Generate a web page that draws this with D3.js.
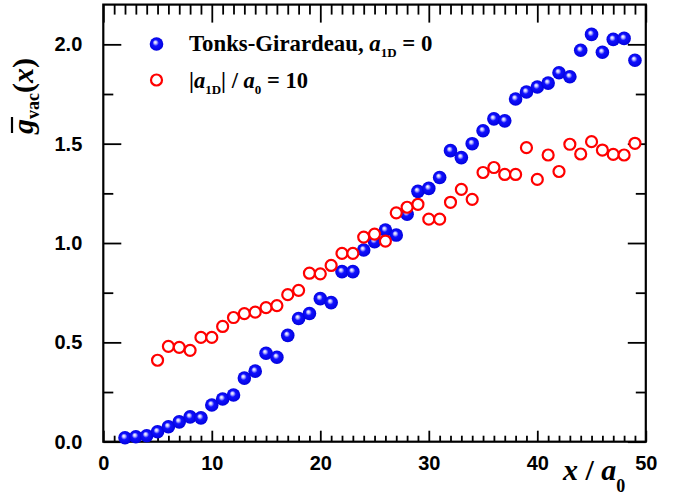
<!DOCTYPE html>
<html>
<head>
<meta charset="utf-8">
<script src="https://d3js.org/d3.v7.min.js"></script>
<style>
  body { margin: 0; background: #fff; }
  svg { display: block; }
</style>
</head>
<body>
<script>
// x / a0 positions
const blueX = [2, 3, 4, 5, 6, 7, 8, 9, 10, 11, 12, 13, 14, 15, 16, 17, 18, 19, 20, 21, 22, 23, 24, 25,
               26, 27, 28, 29, 30, 31, 32, 33, 34, 35, 36, 37, 38, 39, 40, 41, 42, 43, 44, 45, 46, 47, 48, 49];
// Tonks-Girardeau, a1D = 0
const blueY = [0.02, 0.025, 0.03, 0.05, 0.075, 0.10, 0.125, 0.12, 0.185, 0.215, 0.235, 0.32, 0.355, 0.445,
               0.425, 0.535, 0.62, 0.645, 0.72, 0.70, 0.856, 0.856, 0.965, 1.007, 1.065, 1.04, 1.145, 1.26,
               1.275, 1.33, 1.465, 1.43, 1.50, 1.565, 1.625, 1.615, 1.725, 1.76, 1.785, 1.805, 1.857, 1.837,
               1.97, 2.05, 1.96, 2.025, 2.03, 1.92];

const redX = [5, 6, 7, 8, 9, 10, 11, 12, 13, 14, 15, 16, 17, 18, 19, 20, 21, 22, 23, 24, 25, 26, 27,
              28, 29, 30, 31, 32, 33, 34, 35, 36, 37, 38, 39, 40, 41, 42, 43, 44, 45, 46, 47, 48, 49];
// |a1D| / a0 = 10
const redY = [0.41, 0.48, 0.475, 0.46, 0.525, 0.525, 0.58, 0.625, 0.645, 0.652, 0.675, 0.685, 0.74, 0.762,
              0.848, 0.845, 0.887, 0.948, 0.948, 1.03, 1.045, 1.01, 1.152, 1.18, 1.195, 1.12, 1.12, 1.205,
              1.27, 1.22, 1.355, 1.38, 1.345, 1.345, 1.48, 1.32, 1.443, 1.36, 1.497, 1.448, 1.51, 1.468,
              1.446, 1.443, 1.502];

const xMajor = [0, 10, 20, 30, 40, 50];
const yMajor = [0.0, 0.5, 1.0, 1.5, 2.0];
const yMinor = [0.25, 0.75, 1.25, 1.75];

const W = 677, H = 496;
const serif = "'Liberation Serif', 'Times New Roman', serif";
const sans = "'Liberation Sans', Arial, sans-serif";

const svg = d3.select("body").append("svg")
    .attr("width", W)
    .attr("height", H)
    .attr("viewBox", `0 0 ${W} ${H}`);

const x = d3.scaleLinear().domain([0, 50]).range([103.3, 645.8]);
const y = d3.scaleLinear().domain([0, 2.2]).range([441.7, 4.6]);

// sphere look for the blue markers
const defs = svg.append("defs");
const grad = defs.append("radialGradient")
    .attr("id", "ball")
    .attr("cx", "50%").attr("cy", "50%").attr("r", "55%")
    .attr("fx", "40%").attr("fy", "36%");
grad.append("stop").attr("offset", "0%").attr("stop-color", "#ffffff");
grad.append("stop").attr("offset", "18%").attr("stop-color", "#c0c0ff");
grad.append("stop").attr("offset", "42%").attr("stop-color", "#1010ff");
grad.append("stop").attr("offset", "100%").attr("stop-color", "#0000d8");

// minor ticks (every 1 unit on x)
const xMinor = d3.range(0, 51).filter(v => v % 10 !== 0);

function styleAxis(g) {
    g.select(".domain").remove();
    g.selectAll(".tick line").attr("stroke", "#000").attr("stroke-width", 1.8);
}

// bottom
svg.append("g")
    .attr("transform", `translate(0,${y(0)})`)
    .call(d3.axisBottom(x).tickValues(xMinor).tickSize(-6).tickFormat(""))
    .call(styleAxis);
svg.append("g")
    .attr("transform", `translate(0,${y(0)})`)
    .call(d3.axisBottom(x).tickValues(xMajor).tickSize(-11).tickPadding(14).tickFormat(d3.format("d")))
    .call(styleAxis)
    .call(g => g.selectAll("text")
        .attr("font-family", sans).attr("font-weight", "bold").attr("font-size", 20).attr("fill", "#000"));

// top
svg.append("g")
    .attr("transform", `translate(0,${y(2.2)})`)
    .call(d3.axisTop(x).tickValues(xMinor).tickSize(-10).tickFormat(""))
    .call(styleAxis);
svg.append("g")
    .attr("transform", `translate(0,${y(2.2)})`)
    .call(d3.axisTop(x).tickValues(xMajor).tickSize(-18).tickFormat(""))
    .call(styleAxis);

// left
svg.append("g")
    .attr("transform", `translate(${x(0)},0)`)
    .call(d3.axisLeft(y).tickValues(yMinor).tickSize(-10).tickFormat(""))
    .call(styleAxis);
svg.append("g")
    .attr("transform", `translate(${x(0)},0)`)
    .call(d3.axisLeft(y).tickValues(yMajor).tickSize(-18).tickPadding(21).tickFormat(d3.format(".1f")))
    .call(styleAxis)
    .call(g => g.selectAll("text")
        .attr("font-family", sans).attr("font-weight", "bold").attr("font-size", 20).attr("fill", "#000"));

// right
svg.append("g")
    .attr("transform", `translate(${x(50)},0)`)
    .call(d3.axisRight(y).tickValues(yMinor).tickSize(-10).tickFormat(""))
    .call(styleAxis);
svg.append("g")
    .attr("transform", `translate(${x(50)},0)`)
    .call(d3.axisRight(y).tickValues(yMajor).tickSize(-18).tickFormat(""))
    .call(styleAxis);

// frame
svg.append("rect")
    .attr("x", x(0)).attr("y", y(2.2))
    .attr("width", x(50) - x(0)).attr("height", y(0) - y(2.2))
    .attr("fill", "none").attr("stroke", "#000").attr("stroke-width", 2.2);

// data: blue first, red open circles on top
svg.append("g").selectAll("circle")
    .data(blueX.map((d, i) => [d, blueY[i]]))
    .join("circle")
    .attr("cx", d => x(d[0]))
    .attr("cy", d => y(d[1]))
    .attr("r", 6.8)
    .attr("fill", "url(#ball)");

svg.append("g").selectAll("circle")
    .data(redX.map((d, i) => [d, redY[i]]))
    .join("circle")
    .attr("cx", d => x(d[0]))
    .attr("cy", d => y(d[1]))
    .attr("r", 5.5)
    .attr("fill", "#fff")
    .attr("stroke", "#ff0000")
    .attr("stroke-width", 2.2);

// legend
const leg = svg.append("g").attr("font-family", serif).attr("font-weight", "bold").attr("fill", "#000");
leg.append("circle").attr("cx", 156.5).attr("cy", 44).attr("r", 6.8).attr("fill", "url(#ball)");
leg.append("circle").attr("cx", 156.5).attr("cy", 80).attr("r", 5.5)
    .attr("fill", "#fff").attr("stroke", "#ff0000").attr("stroke-width", 2.2);

const t1 = leg.append("text").attr("x", 189).attr("y", 51).attr("font-size", 22.8);
t1.append("tspan").text("Tonks-Girardeau, ");
t1.append("tspan").attr("font-style", "italic").text("a");
t1.append("tspan").attr("font-size", 13).attr("dy", 6).text("1D");
t1.append("tspan").attr("dy", -6).text(" = 0");

const t2 = leg.append("text").attr("x", 189).attr("y", 87.5).attr("font-size", 22.5);
t2.append("tspan").text("|");
t2.append("tspan").attr("font-style", "italic").text("a");
t2.append("tspan").attr("font-size", 13).attr("dy", 6).text("1D");
t2.append("tspan").attr("dy", -6).text("| / ");
t2.append("tspan").attr("font-style", "italic").text("a");
t2.append("tspan").attr("font-size", 13).attr("dy", 6).text("0");
t2.append("tspan").attr("dy", -6).text(" = 10");

// x axis title
const xt = svg.append("text").attr("x", 563).attr("y", 480)
    .attr("font-family", serif).attr("font-weight", "bold").attr("font-size", 30).attr("fill", "#000");
xt.append("tspan").attr("font-style", "italic").text("x");
xt.append("tspan").text(" / ");
xt.append("tspan").attr("font-style", "italic").text("a");
xt.append("tspan").attr("font-size", 18).attr("dy", 12).text("0");

// y axis title, g with overbar
const yg = svg.append("g").attr("transform", "translate(33,96) rotate(-90)");
const yt = yg.append("text").attr("x", 0).attr("y", 0).attr("text-anchor", "middle")
    .attr("font-family", serif).attr("font-weight", "bold").attr("font-size", 30).attr("fill", "#000");
yt.append("tspan").attr("font-style", "italic").text("g");
yt.append("tspan").attr("font-size", 18).attr("dy", 6).text("vac");
yt.append("tspan").attr("dy", -6).text("(");
yt.append("tspan").attr("font-style", "italic").text("x");
yt.append("tspan").text(")");

const node = yt.node();
const g0 = node.getStartPositionOfChar(0).x;
const g1 = node.getEndPositionOfChar(0).x;
yg.append("line")
    .attr("x1", g0 + 1).attr("x2", g1 + 2)
    .attr("y1", -21).attr("y2", -21)
    .attr("stroke", "#000").attr("stroke-width", 2.2);
</script>
</body>
</html>
